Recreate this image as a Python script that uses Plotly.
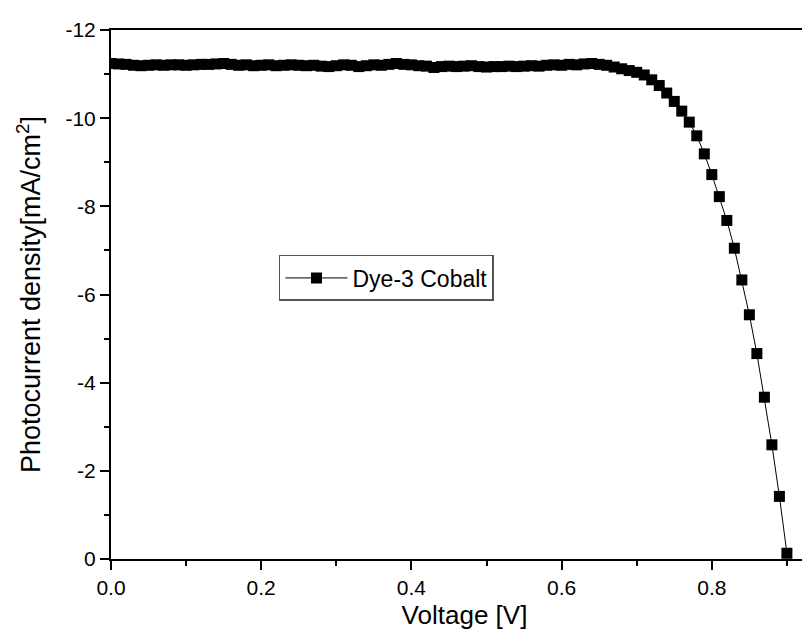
import plotly.graph_objects as go

voltage = [0.00, 0.01, 0.02, 0.03, 0.04, 0.05, 0.06, 0.07, 0.08, 0.09,
           0.10, 0.11, 0.12, 0.13, 0.14, 0.15, 0.16, 0.17, 0.18, 0.19,
           0.20, 0.21, 0.22, 0.23, 0.24, 0.25, 0.26, 0.27, 0.28, 0.29,
           0.30, 0.31, 0.32, 0.33, 0.34, 0.35, 0.36, 0.37, 0.38, 0.39,
           0.40, 0.41, 0.42, 0.43, 0.44, 0.45, 0.46, 0.47, 0.48, 0.49,
           0.50, 0.51, 0.52, 0.53, 0.54, 0.55, 0.56, 0.57, 0.58, 0.59,
           0.60, 0.61, 0.62, 0.63, 0.64, 0.65, 0.66, 0.67, 0.68, 0.69,
           0.70, 0.71, 0.72, 0.73, 0.74, 0.75, 0.76, 0.77, 0.78, 0.79,
           0.80, 0.81, 0.82, 0.83, 0.84, 0.85, 0.86, 0.87, 0.88, 0.89,
           0.90]

current = [-11.24, -11.23, -11.22, -11.20, -11.19, -11.20, -11.21, -11.20, -11.21, -11.21,
           -11.20, -11.21, -11.22, -11.22, -11.23, -11.24, -11.22, -11.20, -11.21, -11.19,
           -11.20, -11.21, -11.19, -11.20, -11.21, -11.20, -11.19, -11.20, -11.18, -11.17,
           -11.19, -11.21, -11.20, -11.17, -11.19, -11.21, -11.20, -11.22, -11.24, -11.22,
           -11.21, -11.19, -11.18, -11.15, -11.17, -11.18, -11.17, -11.18, -11.19, -11.17,
           -11.16, -11.17, -11.17, -11.18, -11.17, -11.18, -11.19, -11.18, -11.20, -11.21,
           -11.20, -11.22, -11.21, -11.23, -11.24, -11.22, -11.20, -11.16, -11.12, -11.08,
           -11.04, -10.98, -10.87, -10.74, -10.57, -10.38, -10.16, -9.91, -9.60, -9.19,
           -8.72, -8.22, -7.68, -7.05, -6.33, -5.54, -4.66, -3.67, -2.59, -1.42,
           -0.13]

y_tick_vals = [0, -2, -4, -6, -8, -10, -12]
y_tick_text = ["0", "-2", "-4", "-6", "-8", "-10", "-12"]
series_name = "Dye-3 Cobalt"

FONT = "Liberation Sans, Arial, sans-serif"
XMAX = 0.9414

fig = go.Figure()
fig.add_trace(go.Scatter(
    x=voltage, y=current, mode="lines+markers", name=series_name,
    line=dict(color="black", width=1),
    marker=dict(symbol="square", size=11, color="black"),
))

fig.update_layout(
    template="none",
    width=810, height=633,
    margin=dict(l=103, r=0, t=22, b=82),
    paper_bgcolor="white", plot_bgcolor="white",
    font=dict(family=FONT, color="black", size=21),
    showlegend=True,
    legend=dict(
        x=0.2376, y=0.5747, xanchor="left", yanchor="top",
        bgcolor="white", bordercolor="#555", borderwidth=1.5,
        font=dict(family=FONT, size=23, color="black"),
        itemwidth=62,
    ),
    xaxis=dict(
        range=[0, XMAX], dtick=0.2, tick0=0, tickformat=".1f",
        showgrid=False, zeroline=False, automargin=False,
        showline=True, linecolor="black", linewidth=2, mirror=True,
        ticks="outside", ticklen=9, tickwidth=2, tickcolor="black",
        minor=dict(dtick=0.1, ticks="outside", ticklen=5, tickwidth=1.5, tickcolor="black"),
        tickfont=dict(size=21),
        title=dict(text="Voltage [V]", font=dict(size=26), standoff=8),
    ),
    xaxis2=dict(
        range=[0, XMAX], overlaying="x", side="top", matches="x",
        showgrid=False, zeroline=False, showline=False, showticklabels=False,
        automargin=False,
        ticks="inside", dtick=0.1, tick0=0, ticklen=3, tickwidth=1, tickcolor="black",
    ),
    yaxis=dict(
        range=[0, -12], tickvals=y_tick_vals, ticktext=y_tick_text,
        showgrid=False, zeroline=False, automargin=False,
        showline=True, linecolor="black", linewidth=2,
        ticks="outside", ticklen=9, tickwidth=2, tickcolor="black",
        minor=dict(dtick=1, tick0=0, ticks="outside", ticklen=5, tickwidth=1.5, tickcolor="black"),
        tickfont=dict(size=21),
        title=dict(text="Photocurrent density[mA/cm<sup>2</sup>]", font=dict(size=27), standoff=17),
    ),
)

fig.write_html("out.html")
